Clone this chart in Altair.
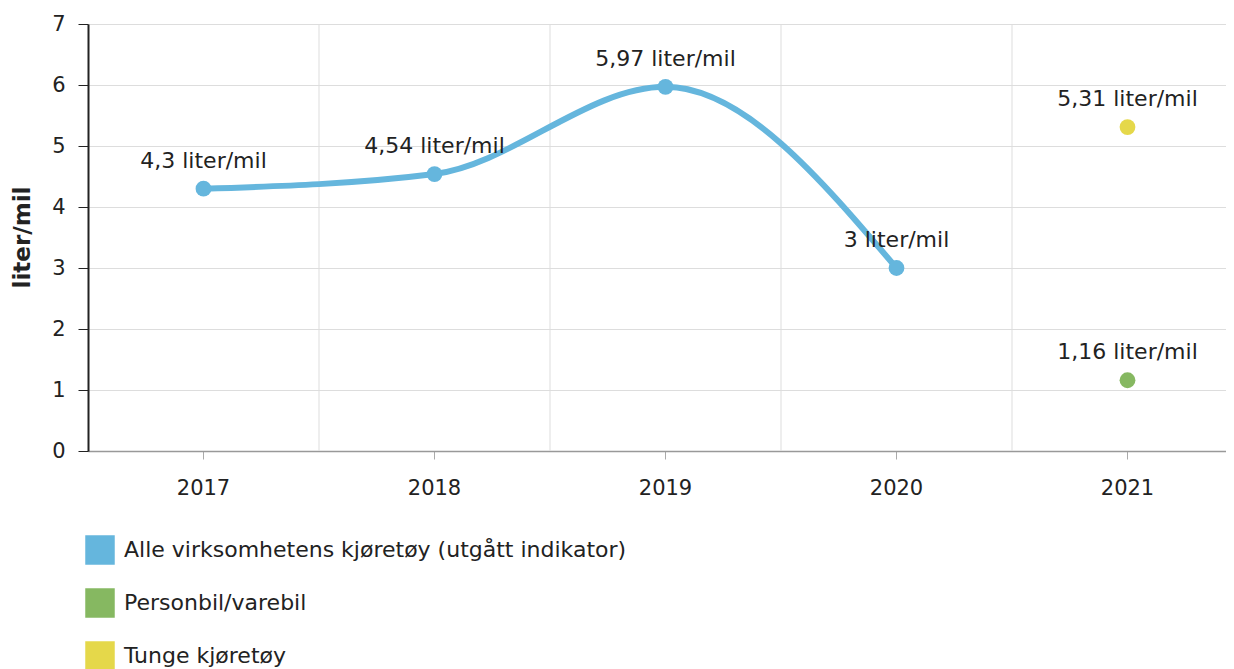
import altair as alt
import pandas as pd

years = ["2017", "2018", "2019", "2020", "2021"]
series_names = [
    "Alle virksomhetens kjøretøy (utgått indikator)",
    "Personbil/varebil",
    "Tunge kjøretøy",
]
series_colors = ["#65b6dd", "#86b861", "#e5d84a"]

alle_years = ["2017", "2018", "2019", "2020"]
alle_values = [4.3, 4.54, 5.97, 3.0]
person_years = ["2021"]
person_values = [1.16]
tunge_years = ["2021"]
tunge_values = [5.31]
y_ticks = [0, 1, 2, 3, 4, 5, 6, 7]


def fmt(v):
    s = ("%g" % v).replace(".", ",")
    return s + " liter/mil"


rows = []
for name, ys, vs in [
    (series_names[0], alle_years, alle_values),
    (series_names[1], person_years, person_values),
    (series_names[2], tunge_years, tunge_values),
]:
    for y, v in zip(ys, vs):
        rows.append({"serie": name, "year": y, "value": v, "label": fmt(v)})
df = pd.DataFrame(rows)
grid_df = pd.DataFrame({"year": years[1:]})

FONT = "DejaVu Sans"
W, H = 1138, 427

x_scale = alt.Scale(domain=years, range=[0, 1155], paddingInner=0, paddingOuter=0)
y_scale = alt.Scale(domain=[0, 7], nice=False)
color_scale = alt.Scale(domain=series_names, range=series_colors)

x_axis = alt.Axis(
    title=None, labelAngle=0, grid=False, labelFontSize=21, labelFont=FONT,
    labelColor="#222222", tickColor="#aaaaaa", tickSize=8, domainColor="#999999",
    domainWidth=1.5, labelPadding=18,
)
y_axis = alt.Axis(
    title="liter/mil", values=y_ticks, grid=True, gridColor="#dddddd",
    labelFontSize=21, labelFont=FONT, labelColor="#222222", labelPadding=13,
    tickColor="#222222", tickSize=10, domainColor="#222222", domainWidth=2,
    titleFont=FONT, titleFontSize=23, titleFontWeight="bold", titleColor="#222222",
    titleX=-66, titleY=213, titleAngle=270, titleAlign="center", titleBaseline="middle",
)

legend = alt.Legend(
    title=None, orient="none", legendX=-3, legendY=511, direction="vertical",
    symbolType="square", symbolSize=870, symbolStrokeWidth=0, symbolOpacity=1,
    labelFontSize=22, labelFont=FONT, labelColor="#222222", labelOffset=9,
    rowPadding=23, padding=0, labelLimit=800,
)

vgrid = alt.Chart(grid_df).mark_rule(color="#dddddd", strokeWidth=1).encode(
    x=alt.X("year:O", scale=x_scale, axis=x_axis, bandPosition=0),
)

base = alt.Chart(df)

line = base.transform_filter(alt.datum.serie == series_names[0]).mark_line(
    strokeWidth=6, interpolate="monotone"
).encode(
    x=alt.X("year:O", scale=x_scale, axis=x_axis),
    y=alt.Y("value:Q", scale=y_scale, axis=y_axis),
    color=alt.Color("serie:N", scale=color_scale, legend=legend),
)

points = base.mark_circle(size=250, opacity=1).encode(
    x=alt.X("year:O", scale=x_scale, axis=x_axis),
    y=alt.Y("value:Q", scale=y_scale, axis=y_axis),
    color=alt.Color("serie:N", scale=color_scale, legend=legend),
)

labels = base.mark_text(
    dy=-21, baseline="alphabetic", fontSize=22, font=FONT, color="#222222"
).encode(
    x=alt.X("year:O", scale=x_scale, axis=x_axis),
    y=alt.Y("value:Q", scale=y_scale, axis=y_axis),
    text="label:N",
)

chart = alt.layer(vgrid, line, points, labels).properties(
    width=W, height=H,
    autosize=alt.AutoSizeParams(type="none"),
    padding={"left": 80, "top": 16, "right": 0, "bottom": 224},
).configure_view(stroke=None).configure(background="white")

chart.save("out.html", embed_options={"renderer": "svg", "actions": False})
